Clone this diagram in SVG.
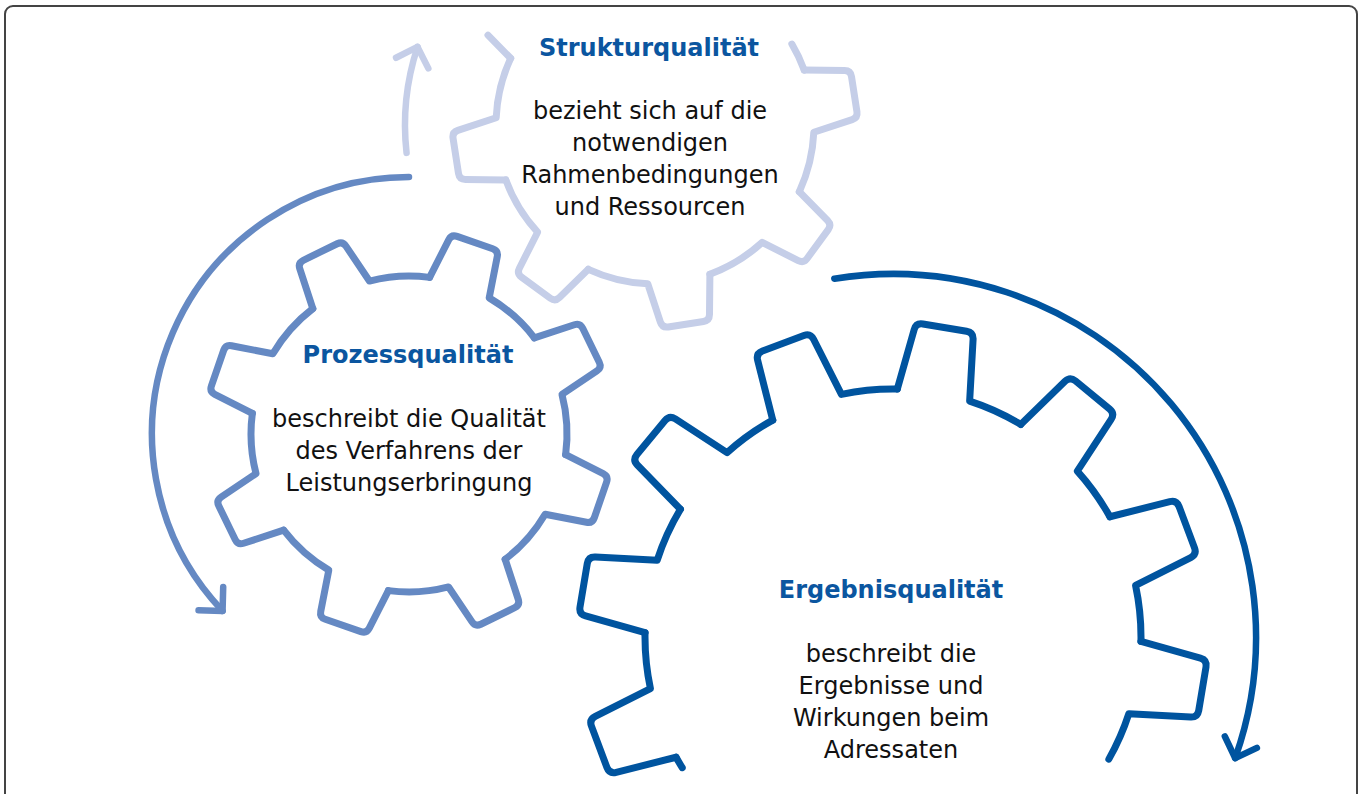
<svg xmlns="http://www.w3.org/2000/svg" xmlns:xlink="http://www.w3.org/1999/xlink" width="1360" height="794" viewBox="0 0 1360 794">
<style>
.gear{fill:none;stroke-width:7;stroke-linejoin:round;stroke-linecap:round}
.s{stroke:#C5CEE8}
.p{stroke:#6589C3}
.e{stroke:#00549F}
.arr{fill:none;stroke-width:6.5;stroke-linecap:round}
.title{font-family:"DejaVu Sans",Verdana,sans-serif;font-weight:bold;font-size:24px;fill:#0B56A0;text-anchor:middle}
.body{font-family:"DejaVu Sans",Verdana,sans-serif;font-size:24px;fill:#111111;text-anchor:middle}
</style>
<defs>
<path id="toothS" d="M155.86,-31.43 L195.67,-24.84 Q201.59,-23.86 201.59,-17.86 L201.59,17.86 Q201.59,23.86 195.67,24.84 L155.86,31.43 A159,159 0 0 1 132.43,87.99"/>
<path id="toothP" d="M154.83,-31.5 L196.54,-25.69 Q202.48,-24.86 202.48,-18.86 L202.48,18.86 Q202.48,24.86 196.54,25.69 L154.83,31.5 A158,158 0 0 1 131.75,87.21"/>
<path id="toothE" d="M245.28,-36.66 L306.69,-29.87 Q313.65,-29.10 313.65,-22.10 L313.65,22.10 Q313.65,29.10 306.69,29.87 L245.28,36.66 A248,248 0 0 1 230.74,90.89"/>
<marker id="mS" markerUnits="userSpaceOnUse" viewBox="-25 -25 50 50" markerWidth="50" markerHeight="50" refX="0" refY="0" orient="auto" overflow="visible">
<path d="M-17,-17 L0,0 L-17,17" fill="none" stroke="#C5CEE8" stroke-width="6.5" stroke-linecap="round" stroke-linejoin="round"/>
</marker>
<marker id="mP" markerUnits="userSpaceOnUse" viewBox="-25 -25 50 50" markerWidth="50" markerHeight="50" refX="0" refY="0" orient="auto" overflow="visible">
<path d="M-17,-17 L0,0 L-17,17" fill="none" stroke="#6589C3" stroke-width="6.5" stroke-linecap="round" stroke-linejoin="round"/>
</marker>
<marker id="mE" markerUnits="userSpaceOnUse" viewBox="-25 -25 50 50" markerWidth="50" markerHeight="50" refX="0" refY="0" orient="auto" overflow="visible">
<path d="M-17,-17 L0,0 L-17,17" fill="none" stroke="#00549F" stroke-width="6.5" stroke-linecap="round" stroke-linejoin="round"/>
</marker>
</defs>
<rect x="0" y="0" width="1360" height="794" fill="#ffffff"/>
<rect x="5" y="6" width="1352" height="800" rx="8" ry="8" fill="#ffffff" stroke="#444444" stroke-width="2"/>

<g id="connectors">
<path class="arr s" d="M406.56,152.87 A250,250 0 0 1 417.51,46.91" marker-end="url(#mS)"/>
<path class="arr p" d="M409,177 A257,257 0 0 0 222.58,610.91" marker-end="url(#mP)"/>
<path class="arr e" d="M834.34,278.77 A363,363 0 0 1 1235.18,758.17" marker-end="url(#mE)"/>
</g>

<g id="node-struktur">
<g class="gear s">
<path transform="translate(655,125) rotate(-8.8)" d="M147.63,-59.05 A159,159 0 0 1 155.86,-31.43"/>
<use xlink:href="#toothS" transform="translate(655,125) rotate(-8.8)"/>
<use xlink:href="#toothS" transform="translate(655,125) rotate(36.2)"/>
<use xlink:href="#toothS" transform="translate(655,125) rotate(81.2)"/>
<use xlink:href="#toothS" transform="translate(655,125) rotate(126.2)"/>
<use xlink:href="#toothS" transform="translate(655,125) rotate(171.2)"/>
<path transform="translate(655,125) rotate(216.2)" d="M155.86,-31.43 L187.87,-26.13"/>
</g>
<text class="title" x="649" y="56">Strukturqualität</text>
<text class="body" x="650" y="119">bezieht sich auf die</text>
<text class="body" x="650" y="151">notwendigen</text>
<text class="body" x="650" y="183">Rahmenbedingungen</text>
<text class="body" x="650" y="215">und Ressourcen</text>
</g>

<g id="node-prozess">
<g class="gear p">
<use xlink:href="#toothP" transform="translate(409,434) rotate(-71)"/>
<use xlink:href="#toothP" transform="translate(409,434) rotate(-26)"/>
<use xlink:href="#toothP" transform="translate(409,434) rotate(19)"/>
<use xlink:href="#toothP" transform="translate(409,434) rotate(64)"/>
<use xlink:href="#toothP" transform="translate(409,434) rotate(109)"/>
<use xlink:href="#toothP" transform="translate(409,434) rotate(154)"/>
<use xlink:href="#toothP" transform="translate(409,434) rotate(199)"/>
<use xlink:href="#toothP" transform="translate(409,434) rotate(244)"/>
</g>
<text class="title" x="408" y="363">Prozessqualität</text>
<text class="body" x="409" y="427">beschreibt die Qualität</text>
<text class="body" x="409" y="459">des Verfahrens der</text>
<text class="body" x="409" y="491">Leistungserbringung</text>
</g>

<g id="node-ergebnis">
<g class="gear e">
<path transform="translate(893,637) rotate(159.5)" d="M243.19,-48.60 A248,248 0 0 1 245.28,-36.66"/>
<use xlink:href="#toothE" transform="translate(893,637) rotate(159.5)"/>
<use xlink:href="#toothE" transform="translate(893,637) rotate(189.5)"/>
<use xlink:href="#toothE" transform="translate(893,637) rotate(219.5)"/>
<use xlink:href="#toothE" transform="translate(893,637) rotate(249.5)"/>
<use xlink:href="#toothE" transform="translate(893,637) rotate(279.5)"/>
<use xlink:href="#toothE" transform="translate(893,637) rotate(309.5)"/>
<use xlink:href="#toothE" transform="translate(893,637) rotate(339.5)"/>
<path transform="translate(893,637) rotate(369.5)" d="M245.28,-36.66 L306.69,-29.87 Q313.65,-29.10 313.65,-22.10 L313.65,22.10 Q313.65,29.10 306.69,29.87 L245.28,36.66 A248,248 0 0 1 233.04,84.82"/>
</g>
<text class="title" x="891" y="598">Ergebnisqualität</text>
<text class="body" x="891" y="662">beschreibt die</text>
<text class="body" x="891" y="694">Ergebnisse und</text>
<text class="body" x="891" y="726">Wirkungen beim</text>
<text class="body" x="891" y="758">Adressaten</text>
</g>
</svg>
